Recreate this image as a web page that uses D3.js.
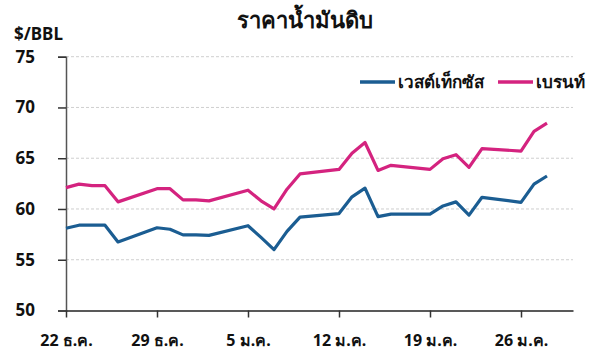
<!DOCTYPE html>
<html>
<head>
<meta charset="utf-8">
<script src="https://cdn.jsdelivr.net/npm/d3@7"></script>
<style>
  body { margin: 0; background: #fff; }
  svg text { font-family: "Noto Sans", "DejaVu Sans", sans-serif; font-weight: bold; fill: #111; }
</style>
</head>
<body>
<div id="container"></div>
<script>
// dates (day, month) of each point
const dates = ["2017-12-22","2017-12-23","2017-12-24","2017-12-25","2017-12-26",
               "2017-12-29","2017-12-30","2017-12-31","2018-01-01","2018-01-02",
               "2018-01-05","2018-01-06","2018-01-07","2018-01-08","2018-01-09",
               "2018-01-12","2018-01-13","2018-01-14","2018-01-15","2018-01-16",
               "2018-01-19","2018-01-20","2018-01-21","2018-01-22","2018-01-23",
               "2018-01-26","2018-01-27","2018-01-28"];
const wti   = [58.1, 58.4, 58.4, 58.4, 56.75, 58.15, 58.0, 57.45, 57.45, 57.4,
               58.35, 57.2, 56.0, 57.8, 59.2, 59.55, 61.2, 62.05, 59.25, 59.5,
               59.5, 60.3, 60.7, 59.4, 61.15, 60.65, 62.45, 63.25];
const brent = [62.1, 62.45, 62.3, 62.3, 60.7, 62.0, 62.0, 60.9, 60.9, 60.8,
               61.85, 60.8, 60.0, 61.95, 63.45, 63.9, 65.5, 66.55, 63.8, 64.3,
               63.9, 64.95, 65.35, 64.1, 65.95, 65.7, 67.65, 68.45];
const yTicks = [50, 55, 60, 65, 70, 75];
const xTicks = ["2017-12-22","2017-12-29","2018-01-05","2018-01-12","2018-01-19","2018-01-26"];
const thaiMonths = {12: "ธ.ค.", 1: "ม.ค."};

const w = 600, h = 354;
const parse = d3.timeParse("%Y-%m-%d");

const xScale = d3.scaleTime()
                 .domain([parse("2017-12-22"), parse("2018-01-30")])
                 .range([66, 573]);
const yScale = d3.scaleLinear()
                 .domain([50, 75])
                 .range([310.5, 56.7]);

const svg = d3.select("#container")
              .append("svg")
              .attr("width", w)
              .attr("height", h);

// gridlines
svg.append("g")
   .selectAll("line")
   .data(yTicks.filter(d => d > 50))
   .enter()
   .append("line")
   .attr("x1", 66)
   .attr("x2", 573)
   .attr("y1", d => yScale(d))
   .attr("y2", d => yScale(d))
   .attr("stroke", "#cfcfcf")
   .attr("stroke-width", 1)
   .attr("stroke-dasharray", "3,2");

// y axis
const yAxis = d3.axisLeft(yScale).tickValues(yTicks).tickSize(8).tickPadding(23);
const gy = svg.append("g")
   .attr("transform", "translate(66,0)")
   .call(yAxis);
gy.select(".domain").attr("stroke", "#555").attr("stroke-width", 1.5);
gy.selectAll(".tick line").attr("stroke", "#333").attr("stroke-width", 1.5);
gy.selectAll("text").style("font-size", "17px");

// x axis
const xAxis = d3.axisBottom(xScale)
                .tickValues(xTicks.map(parse))
                .tickSize(7)
                .tickSizeOuter(0)
                .tickPadding(17)
                .tickFormat(d => d.getDate() + " " + thaiMonths[d.getMonth() + 1]);
const gx = svg.append("g")
   .attr("transform", "translate(0," + yScale(50) + ")")
   .call(xAxis);
gx.select(".domain").attr("stroke", "#222").attr("stroke-width", 1.5);
gx.selectAll(".tick line").attr("stroke", "#333").attr("stroke-width", 1.5);
gx.selectAll("text").style("font-size", "16px");

// lines
const series = [
  {name: "เวสต์เท็กซัส", values: wti, color: "#1b5d92"},
  {name: "เบรนท์", values: brent, color: "#d4237f"}
];
const line = d3.line()
               .x((d, i) => xScale(parse(dates[i])))
               .y(d => yScale(d));
svg.selectAll(".series")
   .data(series)
   .enter()
   .append("path")
   .attr("class", "series")
   .attr("fill", "none")
   .attr("stroke", d => d.color)
   .attr("stroke-width", 3.2)
   .attr("stroke-linejoin", "round")
   .attr("d", d => line(d.values));

// legend
const legendX = [360, 498];
const legend = svg.selectAll(".legend")
   .data(series)
   .enter()
   .append("g")
   .attr("class", "legend")
   .attr("transform", (d, i) => "translate(" + legendX[i] + ",82)");
legend.append("line")
   .attr("x1", 0).attr("x2", 35)
   .attr("stroke", d => d.color)
   .attr("stroke-width", 3.5);
legend.append("text")
   .attr("x", 38)
   .attr("dy", "0.35em")
   .style("font-size", "17px")
   .text(d => d.name);

// title
svg.append("text")
   .attr("x", 305)
   .attr("y", 28)
   .attr("text-anchor", "middle")
   .style("font-size", "22px")
   .text("ราคาน้ำมันดิบ");

svg.append("text")
   .attr("x", 14)
   .attr("y", 40)
   .style("font-size", "17px")
   .text("$/BBL");
</script>
</body>
</html>
